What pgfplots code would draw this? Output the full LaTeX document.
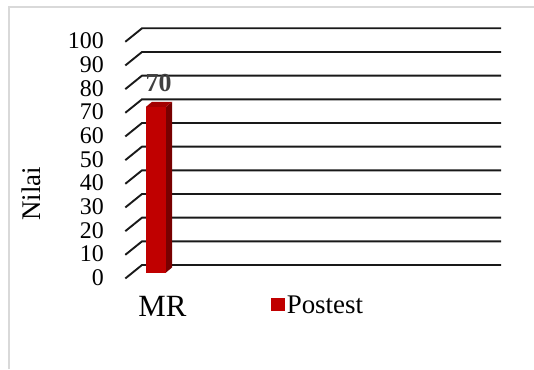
\documentclass[border=0pt]{standalone}
\usepackage{pgfplots}
\pgfplotsset{compat=1.18}
\usepackage{fontspec}
\setmainfont{Liberation Serif}
\definecolor{barfront}{HTML}{C00000}
\definecolor{barside}{HTML}{780000}
\definecolor{bartop}{HTML}{A30000}
\definecolor{framec}{HTML}{D9D9D9}
\definecolor{lbl}{HTML}{404040}
\begin{document}
\begin{tikzpicture}[x=1bp,y=1bp]
\path[use as bounding box] (0,0) rectangle (534,369);
\draw[framec, line width=1.3bp] (9,0) -- (9,362) -- (534,362);
\begin{axis}[
  at={(142bp,104bp)}, anchor=south west, scale only axis,
  width=359bp, height=236.7bp,
  xmin=0, xmax=359, ymin=0, ymax=100,
  clip=false, axis line style={draw=none}, major tick length=0pt,
  xtick=\empty, ytick={0,10,...,100},
  /pgf/number format/assume math mode=true,
  yticklabel style={font=\fontsize{24}{26}\selectfont, inner sep=0pt, xshift=-38bp, yshift=-12.7bp},
  ylabel={Nilai},
  ylabel style={font=\fontsize{27}{30}\selectfont, at={(axis description cs:-0.307,0.30)}, anchor=center, rotate=0},
]
\addplot[black!90, line width=1.9bp, unbounded coords=jump, mark=none] table[row sep=\\] {
x y\\
-16.7 -5.7\\ 0 0\\ 359 0\\ nan nan\\
-16.7 4.3\\ 0 10\\ 359 10\\ nan nan\\
-16.7 14.3\\ 0 20\\ 359 20\\ nan nan\\
-16.7 24.3\\ 0 30\\ 359 30\\ nan nan\\
-16.7 34.3\\ 0 40\\ 359 40\\ nan nan\\
-16.7 44.3\\ 0 50\\ 359 50\\ nan nan\\
-16.7 54.3\\ 0 60\\ 359 60\\ nan nan\\
-16.7 64.3\\ 0 70\\ 359 70\\ nan nan\\
-16.7 74.3\\ 0 80\\ 359 80\\ nan nan\\
-16.7 84.3\\ 0 90\\ 359 90\\ nan nan\\
-16.7 94.3\\ 0 100\\ 359 100\\
};
\end{axis}
\begin{axis}[
  at={(133.7bp,96.5bp)}, anchor=south west, scale only axis,
  width=359bp, height=236.7bp,
  xmin=0, xmax=359, ymin=0, ymax=100,
  clip=false, axis line style={draw=none}, major tick length=0pt,
  ytick=\empty, xtick={22.3}, xticklabels={MR},
  /pgf/number format/assume math mode=true,
  xticklabel style={font=\fontsize{31}{36}\selectfont, anchor=base, yshift=-44.2bp, xshift=6.5bp},
  legend style={draw=none, fill=none, at={(axis description cs:0.383,-0.14)}, anchor=west, inner sep=0pt,
    font=\fontsize{27}{31}\selectfont},
]
\addplot[ybar, bar width=20bp, fill=barfront, draw=none,
  nodes near coords,
  every node near coord/.append style={font=\bfseries\fontsize{26}{30}\selectfont, text=lbl, anchor=base, yshift=15bp, xshift=2.5bp},
  legend image code/.code={\fill[barfront] (0bp,-5.7bp) rectangle (13.4bp,7.7bp);}
] coordinates {(22.3,70)};
\addlegendentry{Postest}
\addplot[fill=barside, draw=none, forget plot] coordinates {(32.3,0) (38.3,2.1) (38.3,72.1) (32.3,70)};
\addplot[fill=bartop, draw=none, forget plot] coordinates {(12.3,70) (32.3,70) (38.3,72.1) (18.3,72.1)};
\end{axis}
\end{tikzpicture}
\end{document}
